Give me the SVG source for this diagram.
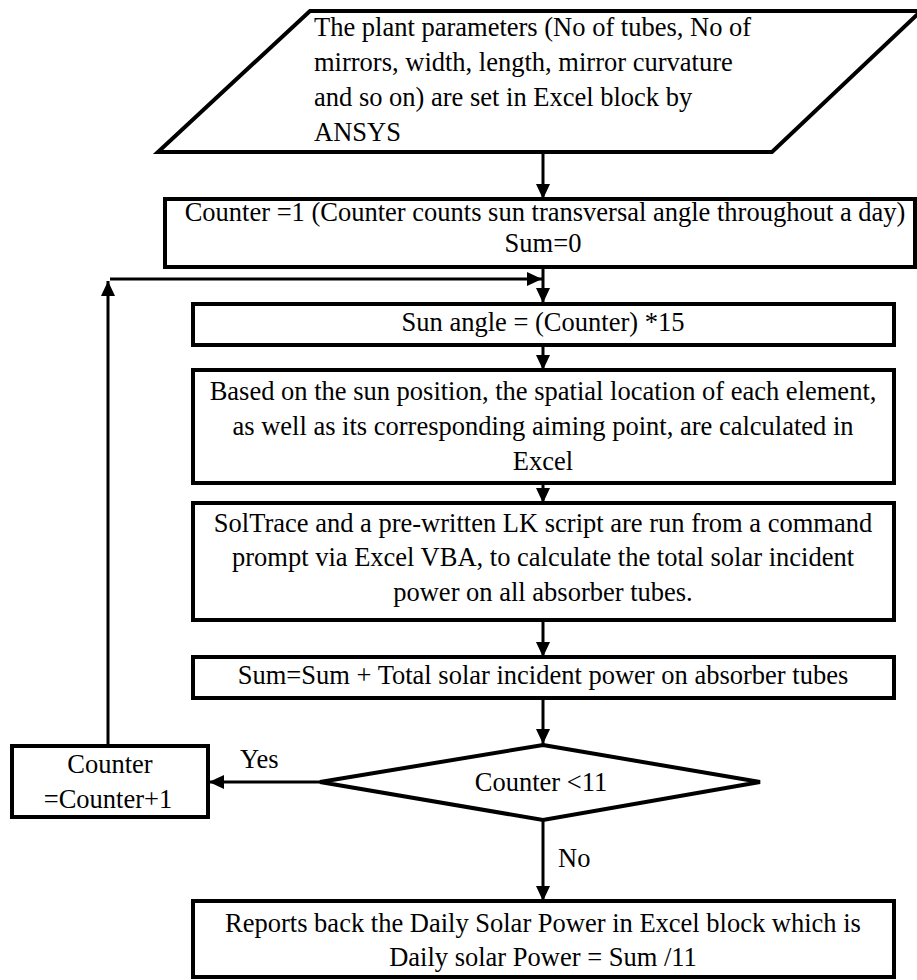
<svg xmlns="http://www.w3.org/2000/svg" width="917" height="980" viewBox="0 0 917 980">
  <style>
    .box { fill: #ffffff; stroke: #000000; stroke-width: 4; stroke-linejoin: miter; }
    .t { font-family: "Liberation Serif", "Times New Roman", serif; font-size: 26.5px; fill: #000000; }
    .c { text-anchor: middle; }
    .conn { fill: none; stroke: #000000; stroke-width: 3; }
  </style>
  <defs>
    <marker id="arrow" markerUnits="userSpaceOnUse" markerWidth="16" markerHeight="14" refX="15" refY="7" orient="auto">
      <path d="M0,0 L15,7 L0,14 Z" fill="#000000"/>
    </marker>
  </defs>
  <rect width="917" height="980" fill="#ffffff"/>

  <g id="connectors">
    <line class="conn" x1="543" y1="154" x2="543" y2="199" marker-end="url(#arrow)"/>
    <line class="conn" x1="543" y1="267" x2="543" y2="303" marker-end="url(#arrow)"/>
    <line class="conn" x1="108" y1="746" x2="108" y2="281" marker-end="url(#arrow)"/>
    <line class="conn" x1="110" y1="279" x2="542" y2="279" marker-end="url(#arrow)"/>
    <line class="conn" x1="543" y1="345" x2="543" y2="370" marker-end="url(#arrow)"/>
    <line class="conn" x1="543" y1="483" x2="543" y2="503" marker-end="url(#arrow)"/>
    <line class="conn" x1="543" y1="620" x2="543" y2="657" marker-end="url(#arrow)"/>
    <line class="conn" x1="543" y1="698" x2="543" y2="744" marker-end="url(#arrow)"/>
    <line class="conn" x1="320" y1="782" x2="209" y2="782" marker-end="url(#arrow)"/>
    <line class="conn" x1="543" y1="820" x2="543" y2="901" marker-end="url(#arrow)"/>
    <text class="t" x="240" y="768">Yes</text>
    <text class="t" x="558" y="867">No</text>
  </g>

  <g id="input">
    <polygon class="box" points="310,11 921,11 772,152 158,152"/>
    <text class="t" x="314" y="36">The plant parameters (No of tubes, No of</text>
    <text class="t" x="314" y="71">mirrors, width, length, mirror curvature</text>
    <text class="t" x="314" y="106">and so on) are set in Excel block by</text>
    <text class="t" x="314" y="141">ANSYS</text>
  </g>

  <g id="init">
    <rect class="box" x="165" y="199" width="750" height="68"/>
    <text class="t c" x="545" y="221">Counter =1 (Counter counts sun transversal angle throughout a day)</text>
    <text class="t c" x="543" y="252">Sum=0</text>
  </g>

  <g id="sunangle">
    <rect class="box" x="193" y="304" width="701" height="41"/>
    <text class="t c" x="543" y="331">Sun angle = (Counter) *15</text>
  </g>

  <g id="location">
    <rect class="box" x="193" y="370" width="701" height="113"/>
    <text class="t c" x="543" y="400">Based on the sun position, the spatial location of each element,</text>
    <text class="t c" x="543" y="435">as well as its corresponding  aiming point, are calculated in</text>
    <text class="t c" x="543" y="470">Excel</text>
  </g>

  <g id="soltrace">
    <rect class="box" x="193" y="503" width="701" height="117"/>
    <text class="t c" x="543" y="532">SolTrace and a pre-written LK script are run from a command</text>
    <text class="t c" x="543" y="566">prompt via Excel VBA, to calculate the total solar incident</text>
    <text class="t c" x="543" y="601">power on all absorber tubes.</text>
  </g>

  <g id="sum">
    <rect class="box" x="193" y="657" width="701" height="41"/>
    <text class="t c" x="543" y="684">Sum=Sum + Total solar incident power on absorber tubes</text>
  </g>

  <g id="decision">
    <polygon class="box" points="543,745 760,782 543,820 320,782"/>
    <text class="t c" x="541" y="791">Counter &lt;11</text>
  </g>

  <g id="increment">
    <rect class="box" x="12" y="746" width="196" height="71"/>
    <text class="t c" x="110" y="773">Counter</text>
    <text class="t c" x="108" y="808">=Counter+1</text>
  </g>

  <g id="report">
    <rect class="box" x="193" y="901" width="701" height="76"/>
    <text class="t c" x="543" y="932">Reports back the Daily Solar Power in Excel block which is</text>
    <text class="t c" x="543" y="966">Daily solar Power = Sum /11</text>
  </g>
</svg>
